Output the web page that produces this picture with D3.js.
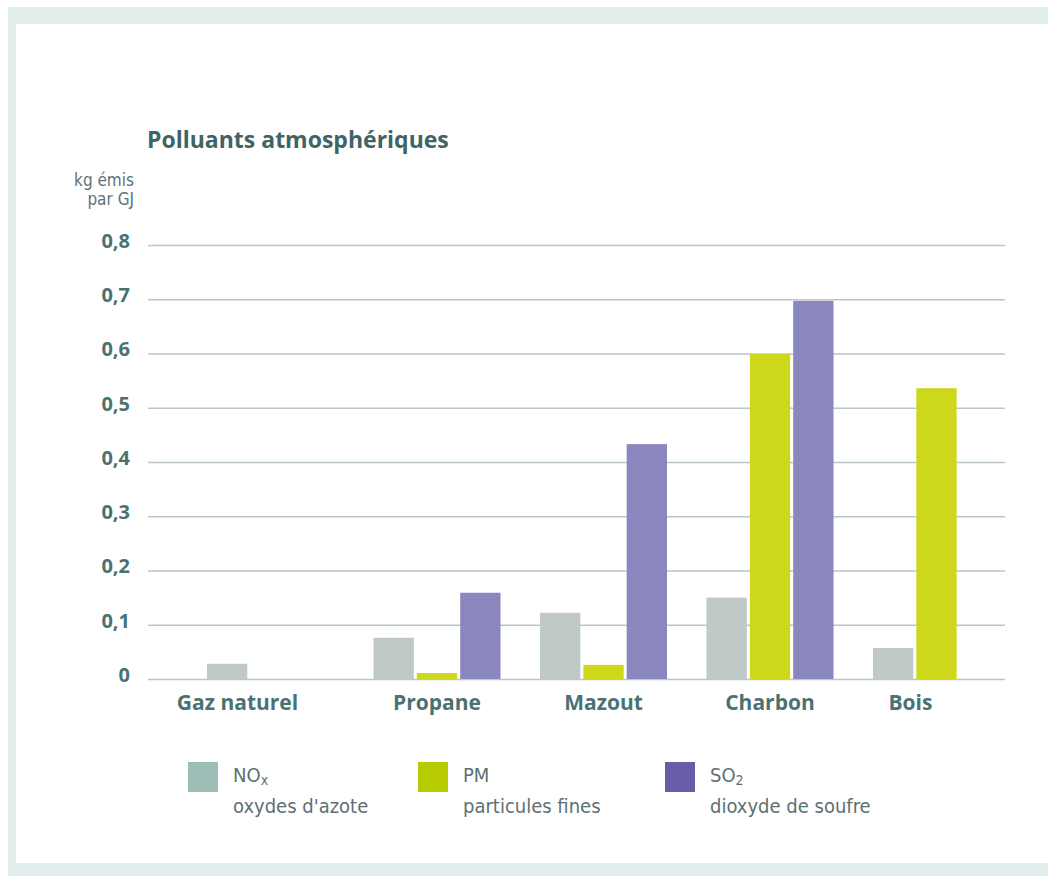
<!DOCTYPE html>
<html>
<head>
<meta charset="utf-8">
<script src="https://cdn.jsdelivr.net/npm/d3@7/dist/d3.min.js"></script>
<style>
  html, body { margin: 0; padding: 0; background: #ffffff; }
  svg { display: block; }
</style>
</head>
<body>
<svg id="chart" width="1048" height="885"></svg>
<script>
// ---- data ----
const categories = ["Gaz naturel", "Propane", "Mazout", "Charbon", "Bois"];
const seriesKeys = ["NOx", "PM", "SO2"];
const noxValues = [0.028, 0.076, 0.122, 0.150, 0.057];
const pmValues  = [0.000, 0.011, 0.026, 0.599, 0.536];
const so2Values = [0.000, 0.159, 0.433, 0.697, 0.000];
const yTicks = [0, 0.1, 0.2, 0.3, 0.4, 0.5, 0.6, 0.7, 0.8];
const yTickLabels = ["0", "0,1", "0,2", "0,3", "0,4", "0,5", "0,6", "0,7", "0,8"];
const legendTitles = ["NO", "PM", "SO"];
const legendSubs = ["x", "", "2"];
const legendDescs = ["oxydes d'azote", "particules fines", "dioxyde de soufre"];
const titleText = "Polluants atmosphériques";
const unitLines = ["kg émis", "par GJ"];

// ---- style / layout ----
const barColors = { NOx: "#bfcac8", PM: "#cdd81b", SO2: "#8987bd" };
const legendColors = ["#9fbdb7", "#b6cb02", "#6b5ca9"];
const textTeal = "#4a7272";
const condensed = "'DejaVu Sans Condensed', 'DejaVu Sans', sans-serif";
const labelNudge = { "Gaz naturel": -33, "Bois": -26 };

const svg = d3.select("#chart");

// frame
svg.append("rect").attr("x", 8).attr("y", 7).attr("width", 1060).attr("height", 869).attr("fill", "#e3eeee");
svg.append("rect").attr("x", 16).attr("y", 24).attr("width", 1060).attr("height", 839).attr("fill", "#ffffff");

const valuesBySeries = { NOx: noxValues, PM: pmValues, SO2: so2Values };
const rows = categories.map((c, i) => ({
  cat: c,
  vals: seriesKeys.map(k => ({ key: k, value: valuesBySeries[k][i] }))
}));

const y = d3.scaleLinear().domain([0, 0.8]).range([679, 245]);
const x0 = d3.scaleBand().domain(categories).range([207, 1000]).paddingInner(0.237).paddingOuter(0);
const x1 = d3.scaleBand().domain(seriesKeys).range([0, x0.bandwidth()]).paddingInner(0.07);

const gridLeft = 148, gridRight = 1005;

// y axis with gridlines
const yAxis = d3.axisLeft(y)
  .tickValues(yTicks)
  .tickFormat((d, i) => yTickLabels[i])
  .tickSize(-(gridRight - gridLeft))
  .tickPadding(18);
const gy = svg.append("g").attr("transform", `translate(${gridLeft},0)`).call(yAxis);
gy.select(".domain").remove();
gy.selectAll(".tick line").attr("stroke", "#b9c7cd").attr("stroke-width", 1.5);
gy.selectAll(".tick text")
  .attr("fill", textTeal)
  .attr("dy", "0.12em")
  .style("font-family", "'Open Sans', sans-serif")
  .style("font-weight", "700")
  .style("font-size", "20px");

// bars
const groups = svg.append("g").selectAll("g").data(rows).join("g")
  .attr("transform", d => `translate(${x0(d.cat)},0)`);
groups.selectAll("rect").data(d => d.vals).join("rect")
  .attr("x", d => x1(d.key))
  .attr("width", x1.bandwidth())
  .attr("y", d => y(d.value))
  .attr("height", d => y(0) - y(d.value))
  .attr("fill", d => barColors[d.key]);

// x axis labels
const xAxis = d3.axisBottom(x0).tickSize(0).tickPadding(16);
const gx = svg.append("g").attr("transform", `translate(0,${y(0)})`).call(xAxis);
gx.select(".domain").remove();
gx.selectAll(".tick text")
  .attr("fill", textTeal)
  .attr("dx", d => labelNudge[d] || 0)
  .style("font-family", "'Open Sans', sans-serif")
  .style("font-weight", "700")
  .style("font-size", "21px");

// title
svg.append("text")
  .attr("x", 147).attr("y", 148)
  .attr("fill", "#3f6464")
  .style("font-family", "'Open Sans', sans-serif")
  .style("font-weight", "700")
  .style("font-size", "23px")
  .text(titleText);

// unit label
svg.append("g").selectAll("text").data(unitLines).join("text")
  .attr("x", 134)
  .attr("y", (d, i) => 186 + i * 19)
  .attr("text-anchor", "end")
  .attr("fill", "#5d7476")
  .style("font-family", condensed)
  .style("font-size", "17px")
  .text(d => d);

// legend
const legendX = [188, 418, 665];
const lg = svg.append("g").selectAll("g").data(seriesKeys).join("g")
  .attr("transform", (d, i) => `translate(${legendX[i]},762)`);
lg.append("rect").attr("width", 30).attr("height", 30).attr("fill", (d, i) => legendColors[i]);
const t1 = lg.append("text")
  .attr("x", 45).attr("y", 20)
  .attr("fill", "#5d7072")
  .style("font-family", condensed)
  .style("font-size", "20px");
t1.append("tspan").text((d, i) => legendTitles[i]);
t1.append("tspan").attr("dy", 3).style("font-size", "14px").text((d, i) => legendSubs[i]);
lg.append("text")
  .attr("x", 45).attr("y", 51)
  .attr("fill", "#5d7072")
  .style("font-family", condensed)
  .style("font-size", "20px")
  .text((d, i) => legendDescs[i]);
</script>
</body>
</html>
